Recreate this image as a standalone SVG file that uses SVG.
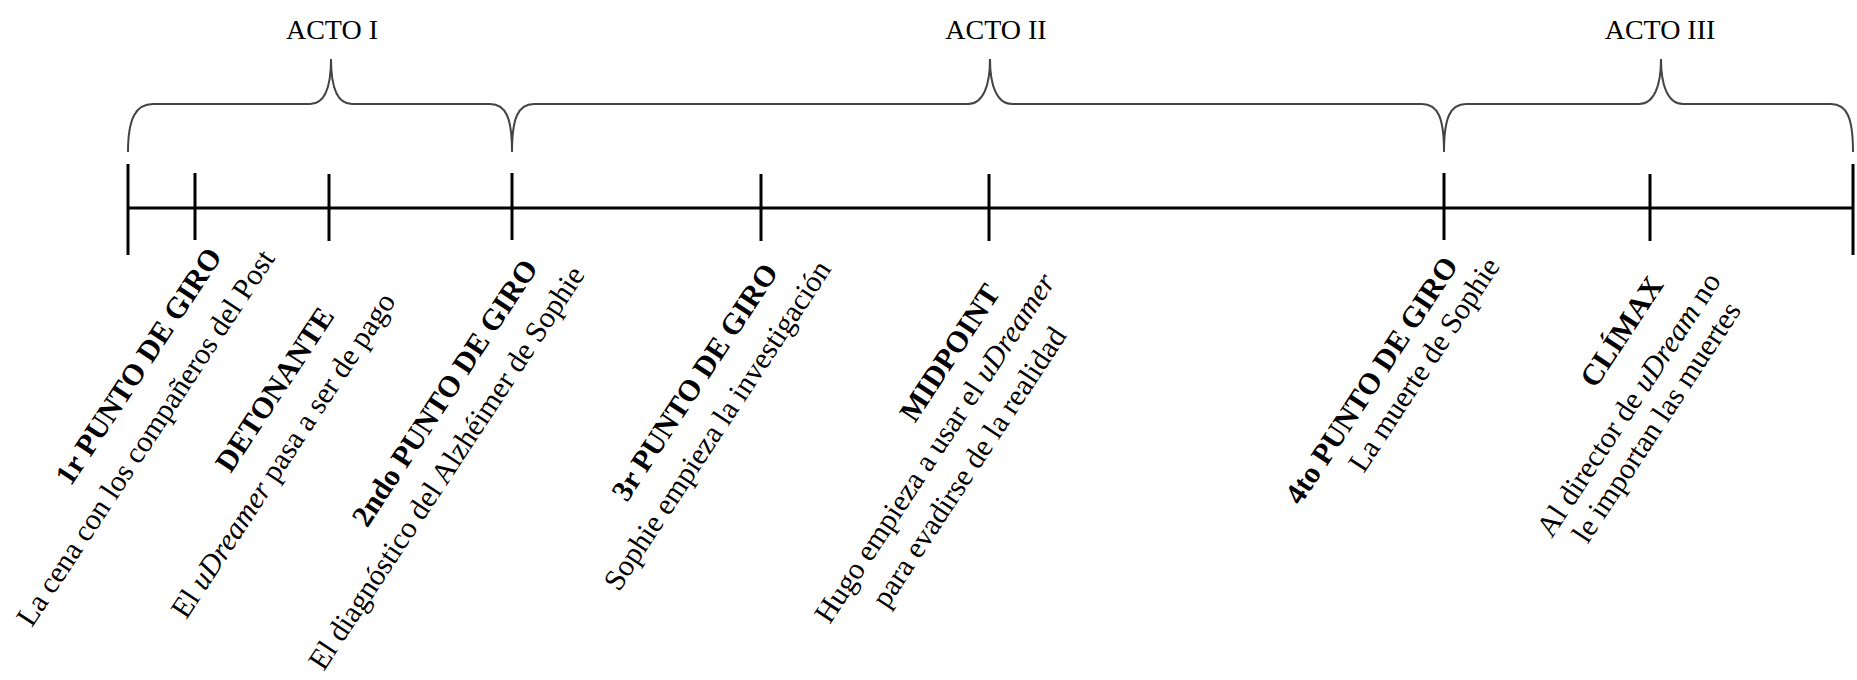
<svg xmlns="http://www.w3.org/2000/svg" width="1857" height="680" viewBox="0 0 1857 680">
<style>
.t{font-family:"Liberation Serif","Times New Roman",serif;font-size:30px;fill:#000;text-anchor:middle}
.b{font-weight:bold}
.act{font-family:"Liberation Serif","Times New Roman",serif;font-size:28px;fill:#000;text-anchor:middle}
.brace{fill:none;stroke:#444;stroke-width:2}
.axis{stroke:#000;stroke-width:3;fill:none}
i,.it{font-style:italic}
</style>
<rect width="1857" height="680" fill="#fff"/>
<g id="connectors">
<line class="axis" x1="128" y1="208" x2="1853" y2="208"/>
<line class="axis" x1="128" y1="164" x2="128" y2="255"/>
<line class="axis" x1="1853" y1="164" x2="1853" y2="255"/>
<line class="axis" x1="195" y1="173" x2="195" y2="240"/>
<line class="axis" x1="329" y1="174" x2="329" y2="241"/>
<line class="axis" x1="512" y1="173" x2="512" y2="240"/>
<line class="axis" x1="761" y1="174" x2="761" y2="241"/>
<line class="axis" x1="989" y1="174" x2="989" y2="241"/>
<line class="axis" x1="1444" y1="173" x2="1444" y2="240"/>
<line class="axis" x1="1650" y1="174" x2="1650" y2="241"/>
</g>
<g id="acto1">
<path class="brace" d="M128,152 C128,118 136,104 153,104 H310 C325,104 331,86 331,59 C331,86 337,104 352,104 H490 C506,104 512,118 512,152"/>
<text class="act" x="332" y="39">ACTO I</text>
</g>
<g id="acto2">
<path class="brace" d="M512,152 C512,118 518,104 534,104 H968 C983,104 990,86 990,59 C990,86 997,104 1012,104 H1422 C1438,104 1444,118 1444,152"/>
<text class="act" x="996" y="39">ACTO II</text>
</g>
<g id="acto3">
<path class="brace" d="M1444,152 C1444,118 1450,104 1466,104 H1639 C1654,104 1661,86 1661,59 C1661,86 1668,104 1683,104 H1831 C1847,104 1853,118 1853,152"/>
<text class="act" x="1660" y="39">ACTO III</text>
</g>
<g id="punto1">
<text class="t b" transform="translate(146.8,371.7) rotate(-56.6)">1r PUNTO DE GIRO</text>
<text class="t" transform="translate(153.8,443.3) rotate(-56.6)">La cena con los compañeros del Post</text>
</g>
<g id="detonante">
<text class="t b" transform="translate(283,395) rotate(-56.6)">DETONANTE</text>
<text class="t" transform="translate(291.3,460.8) rotate(-56.6)">El <tspan class="it">uDreamer</tspan> pasa a ser de pago</text>
</g>
<g id="punto2">
<text class="t b" transform="translate(453,398.3) rotate(-56.6)">2ndo PUNTO DE GIRO</text>
<text class="t" transform="translate(454.7,473.3) rotate(-56.6)">El diagnóstico del Alzhéimer de Sophie</text>
</g>
<g id="punto3">
<text class="t b" transform="translate(703,387.5) rotate(-56.6)">3r PUNTO DE GIRO</text>
<text class="t" transform="translate(725.5,430.8) rotate(-56.6)">Sophie empieza la investigación</text>
</g>
<g id="midpoint">
<text class="t b" transform="translate(958,358.3) rotate(-56.6)">MIDPOINT</text>
<text class="t" transform="translate(943,453.3) rotate(-56.6)">Hugo empieza a usar el <tspan class="it">uDreamer</tspan></text>
<text class="t" transform="translate(977.2,472.5) rotate(-56.6)">para evadirse de la realidad</text>
</g>
<g id="punto4">
<text class="t b" transform="translate(1379.7,385.8) rotate(-56.6)">4to PUNTO DE GIRO</text>
<text class="t" transform="translate(1432.2,370) rotate(-56.6)">La muerte de Sophie</text>
</g>
<g id="climax">
<text class="t b" transform="translate(1630,337) rotate(-56.6)">CLÍMAX</text>
<text class="t" transform="translate(1636.8,410) rotate(-56.6)">Al director de <tspan class="it">uDream</tspan> no</text>
<text class="t" transform="translate(1664.7,427.5) rotate(-56.6)">le importan las muertes</text>
</g>
</svg>
